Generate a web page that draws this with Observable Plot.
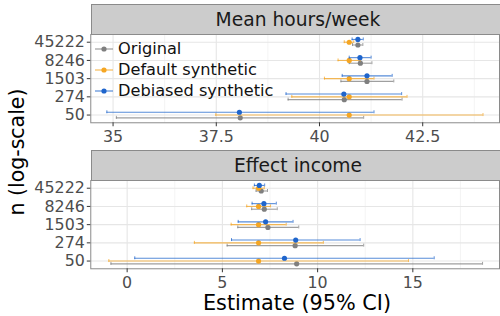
<!DOCTYPE html>
<html>
<head>
<meta charset="utf-8">
<script src="https://cdn.jsdelivr.net/npm/d3@7"></script>
<script src="https://cdn.jsdelivr.net/npm/@observablehq/plot@0.6"></script>
<style>
  html, body { margin: 0; padding: 0; background: #fff; overflow: hidden; }
  #root { position: relative; width: 500px; height: 316px; overflow: hidden; font-family: "DejaVu Sans", sans-serif; }
  .strip { position: absolute; left: 91px; width: 413px; height: 30px; box-sizing: border-box;
           background: #cccccc; border-top: 1px solid #8a8a8a; border-left: 1px solid #8a8a8a;
           color: #1a1a1a; font-size: 18.7px; line-height: 30px; text-align: center; }
  .plot { position: absolute; left: 0; }
  .legrow { position: absolute; left: 94px; height: 20px; }
  .legrow svg { position: absolute; left: 0; top: 0; }
  .legrow span { position: absolute; left: 24px; top: 0; line-height: 20px; font-size: 16.2px; color: #111; white-space: nowrap; }
  #ytitle { position: absolute; left: 17px; top: 152px; transform: translate(-50%, -50%) rotate(-90deg);
            font-size: 20.5px; white-space: nowrap; color: #000; }
  #xtitle { position: absolute; left: 297px; top: 303px; transform: translate(-50%, -50%);
            font-size: 20.8px; white-space: nowrap; color: #000; }
</style>
</head>
<body>
<div id="root"></div>
<script>
// ---- data ----
const nValues = [50, 274, 1503, 8246, 45222];
const seriesNames = ["Original", "Default synthetic", "Debiased synthetic"];
const seriesColors = ["#7f7f7f", "#F5A623", "#1F65CC"];
const panelTitles = ["Mean hours/week", "Effect income"];

// Mean hours/week
const hoursOriginalEst  = [38.08, 40.60, 41.15, 40.99, 40.93];
const hoursOriginalLow  = [35.08, 39.24, 40.52, 40.72, 40.80];
const hoursOriginalHigh = [41.07, 42.00, 41.80, 41.27, 41.05];
const hoursDefaultEst   = [40.72, 40.72, 40.72, 40.72, 40.72];
const hoursDefaultLow   = [37.49, 39.33, 40.12, 40.45, 40.60];
const hoursDefaultHigh  = [43.96, 42.12, 41.32, 40.99, 40.83];
const hoursDebiasedEst  = [38.06, 40.59, 41.15, 40.98, 40.93];
const hoursDebiasedLow  = [34.85, 39.19, 40.55, 40.72, 40.79];
const hoursDebiasedHigh = [41.32, 41.99, 41.76, 41.25, 41.06];

// Effect income
const incomeOriginalEst  = [8.90, 8.82, 7.39, 7.20, 7.04];
const incomeOriginalLow  = [-0.85, 5.25, 5.81, 6.54, 6.77];
const incomeOriginalHigh = [18.66, 12.42, 9.01, 7.88, 7.37];
const incomeDefaultEst   = [6.90, 6.90, 6.90, 6.90, 6.90];
const incomeDefaultLow   = [-0.96, 3.53, 5.46, 6.28, 6.61];
const incomeDefaultHigh  = [14.77, 10.30, 8.35, 7.53, 7.20];
const incomeDebiasedEst  = [8.26, 8.85, 7.27, 7.18, 6.94];
const incomeDebiasedLow  = [0.40, 5.48, 5.83, 6.56, 6.68];
const incomeDebiasedHigh = [16.12, 12.23, 8.71, 7.83, 7.22];

const hoursTicks = [35, 37.5, 40, 42.5];
const hoursMinor = [36.25, 38.75, 41.25, 43.75];
const incomeTicks = [0, 5, 10, 15];
const incomeMinor = [2.5, 7.5, 12.5, 17.5];

// ---- helpers ----
const lg = Math.log10;
const rows = (est, lo, hi) => nValues.map((n, i) => ({n, ln: lg(n), est: est[i], lo: lo[i], hi: hi[i]}));
const dodge = [2.8, 0, -2.8];
const yTicks = nValues.map(lg);

function panel(seriesRows, xDomain, ticks, minor) {
  const marks = [
    Plot.gridX(minor, {stroke: "#ececec", strokeOpacity: 1, strokeWidth: 0.6}),
    Plot.gridX(ticks, {stroke: "#e6e6e6", strokeOpacity: 1, strokeWidth: 1.1}),
    Plot.gridY(yTicks, {stroke: "#e6e6e6", strokeOpacity: 1, strokeWidth: 1.1})
  ];
  seriesRows.forEach((data, s) => {
    const c = seriesColors[s], dy = dodge[s];
    marks.push(
      Plot.ruleY(data, {y: "ln", x1: "lo", x2: "hi", stroke: c, strokeWidth: 1.1, strokeOpacity: 0.75, dy}),
      Plot.ruleX(data, {x: "lo", y1: "ln", y2: "ln", insetTop: -1.5, insetBottom: -1.5, stroke: c, strokeOpacity: 0.75, dy}),
      Plot.ruleX(data, {x: "hi", y1: "ln", y2: "ln", insetTop: -1.5, insetBottom: -1.5, stroke: c, strokeOpacity: 0.75, dy}),
      Plot.dot(data, {x: "est", y: "ln", r: 2.6, fill: c, stroke: "none", dy})
    );
  });
  marks.push(
    Plot.frame({stroke: "#8a8a8a", strokeWidth: 1}),
    Plot.axisX({ticks, tickFormat: d => String(d), tickSize: 4, tickPadding: 3.5, fontSize: 16, stroke: "#333", fill: "#4d4d4d", label: null}),
    Plot.axisY({ticks: yTicks, tickFormat: d => String(Math.round(10 ** d)), tickSize: 3.5, tickPadding: 2.5, fontSize: 16, stroke: "#333", fill: "#4d4d4d", label: null})
  );
  return Plot.plot({
    width: 504, height: 114,
    marginTop: 1, marginBottom: 24, marginLeft: 91, marginRight: 1,
    style: {fontFamily: "DejaVu Sans, sans-serif", color: "#4d4d4d", background: "transparent", overflow: "visible"},
    x: {domain: xDomain},
    y: {type: "linear", domain: [lg(24.3), lg(93100)]},
    marks
  });
}

const root = document.getElementById("root");

const hoursRows = [
  rows(hoursOriginalEst, hoursOriginalLow, hoursOriginalHigh),
  rows(hoursDefaultEst, hoursDefaultLow, hoursDefaultHigh),
  rows(hoursDebiasedEst, hoursDebiasedLow, hoursDebiasedHigh)
];
const incomeRows = [
  rows(incomeOriginalEst, incomeOriginalLow, incomeOriginalHigh),
  rows(incomeDefaultEst, incomeDefaultLow, incomeDefaultHigh),
  rows(incomeDebiasedEst, incomeDebiasedLow, incomeDebiasedHigh)
];

const p1 = panel(hoursRows, [34.46, 44.36], hoursTicks, hoursMinor);
p1.classList.add("plot"); p1.style.top = "33px";
root.appendChild(p1);

const p2 = panel(incomeRows, [-1.91, 19.55], incomeTicks, incomeMinor);
p2.classList.add("plot"); p2.style.top = "179px";
root.appendChild(p2);

// strips
[4, 150].forEach((top, i) => {
  const s = document.createElement("div");
  s.className = "strip";
  s.style.top = top + "px";
  s.textContent = panelTitles[i];
  root.appendChild(s);
});

// legend (inside top panel)
const legendY = [49.3, 70, 90.7];
seriesNames.forEach((name, i) => {
  const r = document.createElement("div");
  r.className = "legrow";
  r.style.top = (legendY[i] - 10) + "px";
  r.innerHTML = `<svg width="20" height="20"><line x1="1" x2="19" y1="10" y2="10" stroke="${seriesColors[i]}" stroke-opacity="0.75" stroke-width="1.2"/><circle cx="10" cy="10" r="2.6" fill="${seriesColors[i]}"/></svg><span>${name}</span>`;
  root.appendChild(r);
});

// axis titles
const yt = document.createElement("div");
yt.id = "ytitle"; yt.textContent = "n (log-scale)";
root.appendChild(yt);
const xt = document.createElement("div");
xt.id = "xtitle"; xt.textContent = "Estimate (95% CI)";
root.appendChild(xt);
</script>
</body>
</html>
